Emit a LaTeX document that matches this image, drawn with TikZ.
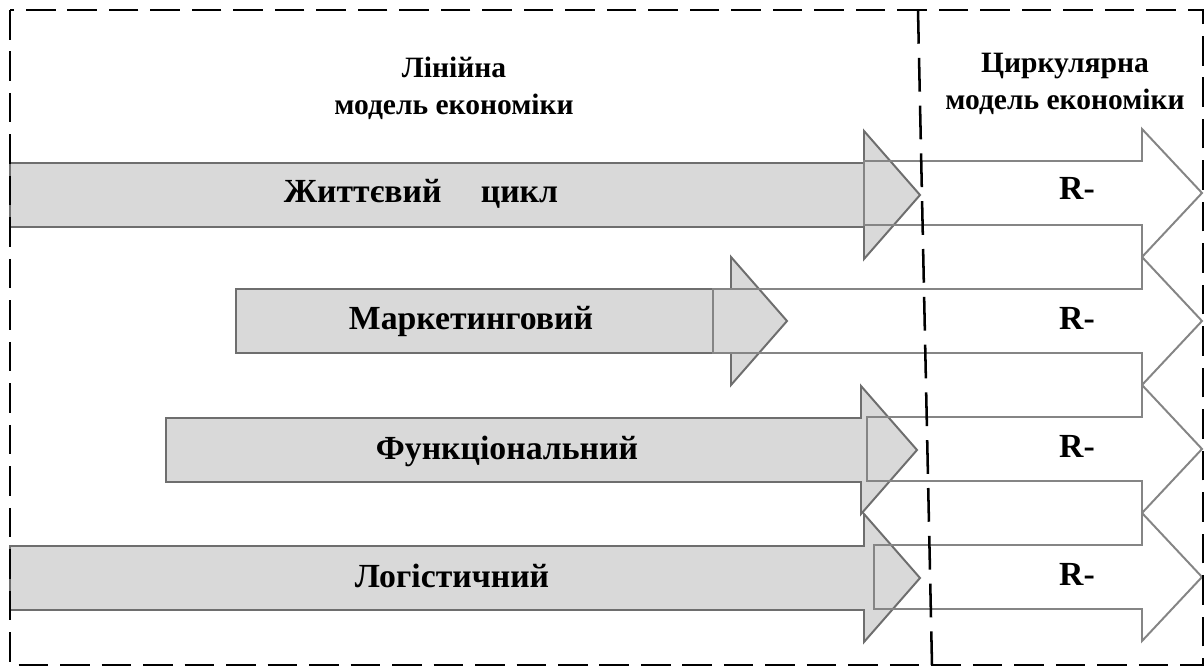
\documentclass[tikz,border=0pt]{standalone}
\usepackage{fontspec}
\setmainfont{Liberation Serif}
\usepackage{tikz}
\usetikzlibrary{calc}

\definecolor{arrowfill}{HTML}{D9D9D9}
\definecolor{arrowline}{HTML}{6E6E6E}
\definecolor{outline}{HTML}{858585}

\tikzset{
  greyarrow/.style={fill=arrowfill, draw=arrowline, line width=1.4pt},
  whitearrow/.style={draw=outline, line width=1.4pt},
  lbl/.style={font=\fontsize{24}{28}\selectfont\bfseries, anchor=base, inner sep=0pt},
  heading/.style={font=\fontsize{21}{27}\selectfont\bfseries, align=center, anchor=base, inner sep=0pt},
}

\begin{document}
\begin{tikzpicture}[x=0.025cm, y=-0.025cm]
                \useasboundingbox (0,0) rectangle (1204,669);
                % linear model
                \foreach \l/\t/\c in {10/920/195, 236/787/321, 166/917/450, 10/920/578}
                    \draw[greyarrow] (\l,\c-32) -- (\t-56,\c-32) -- (\t-56,\c-64) -- (\t,\c) -- (\t-56,\c+64) -- (\t-56,\c+32) -- (\l,\c+32) -- cycle;
                % circular model
                \foreach \l/\c in {864/193, 713/321, 867/449, 874/577}
                    \draw[whitearrow] (\l,\c-32) -- (1142,\c-32) -- (1142,\c-64) -- (1202,\c) -- (1142,\c+64) -- (1142,\c+32) -- (\l,\c+32) -- cycle;
                \draw[line width=1.4pt, dash pattern=on 21pt off 8.5pt] (10,10) rectangle (1203,665);
                \draw[line width=1.8pt, dash pattern=on 24pt off 10pt] (918,10) -- (932,665);
                \node[heading] (linear) at (454,115) {Лінійна\\модель економіки};
                \node[heading] (circular) at (1065,110) {Циркулярна\\модель економіки};
                \node[lbl] (life) at (421,203) {Життєвий\hspace{28pt}цикл};
                \node[lbl] (marketing) at (471,329) {Маркетинговий};
                \node[lbl] (functional) at (507,459) {Функціональний};
                \node[lbl] (logistic) at (452,587) {Логістичний};
                \foreach \c [count=\i] in {200,329,457,585}
                    \node[lbl] (r\i) at (1077,\c) {R-};
            \end{tikzpicture}
\end{document}
